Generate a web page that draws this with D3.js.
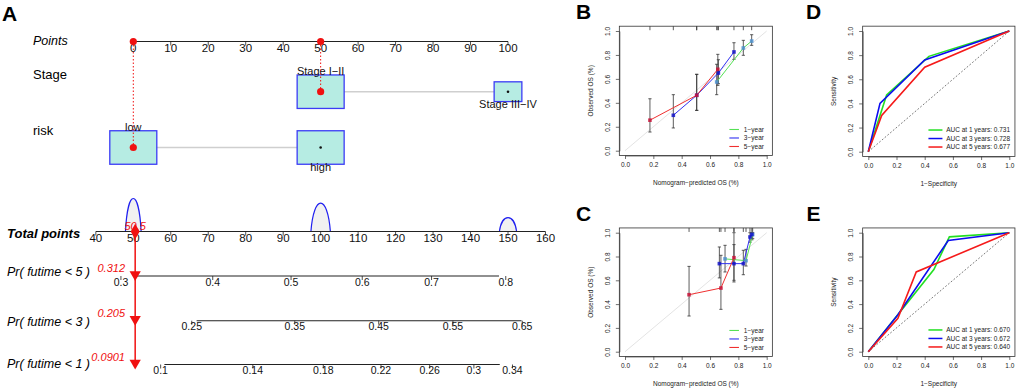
<!DOCTYPE html>
<html>
<head>
<meta charset="utf-8">
<script src="https://cdn.jsdelivr.net/npm/d3@7"></script>
<style>
  body { margin: 0; background: #fff; }
  svg text { font-family: "Liberation Sans", Arial, Helvetica, sans-serif; }
</style>
</head>
<body>
<svg id="fig" width="1017" height="390"></svg>
<script>
// ---------------- data: nomogram (panel A) ----------------
var pointTicks = [0, 10, 20, 30, 40, 50, 60, 70, 80, 90, 100];
var totalTicks = [40, 50, 60, 70, 80, 90, 100, 110, 120, 130, 140, 150, 160];
var stageLevels = ["Stage I\u2212II", "Stage III\u2212IV"];
var stagePoints = [50, 100];
var stageShare = [1, 0.59];
var riskLevels = ["low", "high"];
var riskPoints = [0, 50];
var riskShare = [1, 1];
var selectedTotal = 50.5;
var humpTotals = [50, 100, 150];
var humpDensity = [1, 0.86, 0.42];
var humpSpread = [2.1, 2.6, 2.3];
// probability axes: tick labels and the total points where they sit
var pr5Ticks = ["0.3", "0.4", "0.5", "0.6", "0.7", "0.8"];
var pr5At = [46.7, 71.2, 92.1, 111.1, 129.6, 149.4];
var pr5Span = [50, 147.6];
var pr3Ticks = ["0.25", "0.35", "0.45", "0.55", "0.65"];
var pr3At = [65.6, 93.1, 115.5, 135.3, 153.8];
var pr3Span = [66.9, 153.6];
var pr1Ticks = ["0.1", "0.14", "0.18", "0.22", "0.26", "0.3", "0.34"];
var pr1At = [57.3, 81.9, 100.7, 116.1, 129.1, 140.9, 151.2];
var pr1Span = [58.3, 147.8];
var prNames = ["Pr( futime < 5 )", "Pr( futime < 3 )", "Pr( futime < 1 )"];
var prValues = ["0.312", "0.205", "0.0901"];

// ---------------- data: calibration (B, C) rows = [predicted, observed, lower, upper] ----------------
var seriesNames = ["1\u2212year", "3\u2212year", "5\u2212year"];
var calB1 = [[0.647, 0.574, 0.468, 0.722], [0.835, 0.858, 0.797, 0.922], [0.894, 0.916, 0.88, 0.969]];
var calB3 = [[0.341, 0.296, 0.19, 0.468], [0.506, 0.463, 0.337, 0.638], [0.659, 0.649, 0.56, 0.76], [0.769, 0.825, 0.763, 0.902]];
var calB5 = [[0.176, 0.255, 0.156, 0.434], [0.506, 0.463, 0.337, 0.638], [0.655, 0.68, 0.546, 0.805]];
var calC1 = [[0.706, 0.78, 0.67, 0.894], [0.854, 0.765, 0.72, 0.86], [0.901, 0.985, 0.95, 1.0]];
var calC3 = [[0.666, 0.74, 0.62, 0.88], [0.769, 0.74, 0.6, 0.9], [0.835, 0.74, 0.647, 0.852], [0.882, 0.964, 0.92, 1.0], [0.895, 0.985, 0.94, 1.0]];
var calC5 = [[0.452, 0.479, 0.30, 0.717], [0.677, 0.535, 0.356, 0.81], [0.769, 0.79, 0.586, 1.0]];

// ---------------- data: time-dependent ROC (D, E) rows = [1-specificity, sensitivity] ----------------
var rocD1 = [[0, 0], [0.13, 0.47], [0.43, 0.79], [1, 1]];
var rocD3 = [[0, 0], [0.083, 0.40], [0.40, 0.76], [1, 1]];
var rocD5 = [[0, 0], [0.095, 0.30], [0.40, 0.70], [1, 1]];
var rocE1 = [[0, 0], [0.465, 0.69], [0.575, 0.965], [1, 1]];
var rocE3 = [[0, 0], [0.21, 0.31], [0.567, 0.935], [1, 1]];
var rocE5 = [[0, 0], [0.21, 0.28], [0.34, 0.67], [1, 1]];
var aucD = ["0.731", "0.728", "0.677"];
var aucE = ["0.670", "0.672", "0.640"];
var aucYears = [1, 3, 5];
var unitTicks = [0, 0.2, 0.4, 0.6, 0.8, 1.0];

var svg = d3.select("#fig");
svg.append("rect").attr("width", 1017).attr("height", 390).attr("fill", "#fff");

// panel letters
[["A", 2, 20.5], ["B", 576, 19], ["C", 576, 221], ["D", 806, 19], ["E", 806.5, 221]].forEach(function(d) {
	svg.append("text").attr("x", d[1]).attr("y", d[2]).text(d[0])
		.style("font-size", "21px").style("font-weight", "bold");
});

// ================= panel A =================
var A = svg.append("g");
var xPts = d3.scaleLinear().domain([0, 100]).range([133.3, 508]);
var xTot = d3.scaleLinear().domain([50, 150]).range([133.3, 508]);
var yPoints = 41.5, yStage = 91.7, yRisk = 147.5, yTotal = 231.5;
var yPr = [276, 320.7, 364.5];
var yPrLabel = [272, 322, 364];

function axisRow(px, labels, y, from, to, size) {
	A.append("line").attr("x1", from).attr("x2", to).attr("y1", y).attr("y2", y)
		.attr("stroke", "#222").attr("stroke-width", 1.1);
	labels.forEach(function(lab, i) {
		A.append("line").attr("x1", px[i]).attr("x2", px[i]).attr("y1", y).attr("y2", y + 4)
			.attr("stroke", "#222").attr("stroke-width", 0.8);
		A.append("text").attr("x", px[i]).attr("y", y + 6).attr("dy", "0.35em")
			.attr("text-anchor", "middle").style("font-size", size).attr("fill", "#111").text(lab);
	});
}

function rowLabel(txt, x, y, style, weight, size) {
	A.append("text").attr("x", x).attr("y", y).attr("dy", "0.35em").text(txt)
		.style("font-size", size).style("font-style", style).style("font-weight", weight).attr("fill", "#000");
}

// Points axis
axisRow(pointTicks.map(xPts), pointTicks.map(String), yPoints, xPts(0), xPts(100), "11.5px");
rowLabel("Points", 33, yPoints - 1, "italic", "normal", "12.5px");

// factor rows with boxes
var boxW = 47, boxH = 33.5;
function factorRow(levels, pts, share, y) {
	A.append("line").attr("x1", xPts(pts[0])).attr("x2", xPts(pts[pts.length - 1]))
		.attr("y1", y).attr("y2", y).attr("stroke", "#cfcfcf").attr("stroke-width", 1.5);
	levels.forEach(function(lev, i) {
		var w = boxW * share[i], h = boxH * share[i], cx = xPts(pts[i]);
		A.append("rect").attr("x", cx - w / 2).attr("y", y - h / 2).attr("width", w).attr("height", h)
			.attr("fill", "#b6ece3").attr("stroke", "#3b3bf5").attr("stroke-width", 1.3);
		A.append("circle").attr("cx", cx).attr("cy", y).attr("r", 1.3).attr("fill", "#111");
		var ty = i === 0 ? y - h / 2 - 4 : y + h / 2 + 3;
		A.append("text").attr("x", cx).attr("y", ty).attr("dy", "0.35em").attr("text-anchor", "middle")
			.style("font-size", "11px").attr("fill", "#111").text(lev);
	});
}
factorRow(stageLevels, stagePoints, stageShare, yStage);
factorRow(riskLevels, riskPoints, riskShare, yRisk);
rowLabel("Stage", 33, 74.5, "normal", "normal", "13px");
rowLabel("risk", 33, 130.5, "normal", "normal", "13px");

// density humps above total points
var humpH = d3.scaleLinear().domain([0, 1]).range([0, 33]);
humpTotals.forEach(function(c, i) {
	var x0 = xTot(c - humpSpread[i]), x1 = xTot(c + humpSpread[i]), xm = xTot(c);
	var h = humpH(humpDensity[i]) * 4 / 3;
	var p = d3.path();
	p.moveTo(x0, yTotal);
	p.bezierCurveTo(x0 + (xm - x0) * 0.3, yTotal - h, x1 - (x1 - xm) * 0.3, yTotal - h, x1, yTotal);
	A.append("path").attr("d", p.toString()).attr("fill", "#f1f1f1").attr("stroke", "#2020f0").attr("stroke-width", 1.2);
});

// Total points axis
axisRow(totalTicks.map(xTot), totalTicks.map(String), yTotal, xTot(40), xTot(160), "11.5px");
rowLabel("Total points", 7, yTotal + 1.5, "italic", "bold", "13px");

// probability axes
[[pr5Ticks, pr5At, pr5Span], [pr3Ticks, pr3At, pr3Span], [pr1Ticks, pr1At, pr1Span]].forEach(function(ax, k) {
	axisRow(ax[1].map(xTot), ax[0], yPr[k], xTot(ax[2][0]), xTot(ax[2][1]), "10.5px");
	rowLabel(prNames[k], 7, yPrLabel[k], "italic", "normal", "12.5px");
});

// selected patient (red)
var red = "#f01010";
var xs = xTot(selectedTotal);
A.append("line").attr("x1", xPts(0)).attr("x2", xPts(0)).attr("y1", yPoints).attr("y2", yRisk)
	.attr("stroke", red).attr("stroke-width", 1).attr("stroke-dasharray", "1.5,2");
A.append("line").attr("x1", xPts(50)).attr("x2", xPts(50)).attr("y1", yPoints).attr("y2", yStage)
	.attr("stroke", red).attr("stroke-width", 1).attr("stroke-dasharray", "1.5,2");
[[xPts(0), yPoints], [xPts(50), yPoints], [xPts(stagePoints[0]), yStage], [xPts(riskPoints[0]), yRisk]].forEach(function(d) {
	A.append("circle").attr("cx", d[0]).attr("cy", d[1]).attr("r", 3.6).attr("fill", red);
});
A.append("line").attr("x1", xs).attr("x2", xs).attr("y1", yTotal).attr("y2", yPr[2] + 2)
	.attr("stroke", red).attr("stroke-width", 1.5);
A.append("path").attr("d", d3.symbol().type(d3.symbolDiamond).size(70)())
	.attr("transform", "translate(" + xs + "," + yTotal + ")").attr("fill", red);
A.append("text").attr("x", xs).attr("y", yTotal - 5).attr("dy", "0.35em").attr("text-anchor", "middle")
	.style("font-size", "11px").style("font-style", "italic").attr("fill", red).text(String(selectedTotal));
yPr.forEach(function(y, k) {
	A.append("path").attr("d", d3.symbol().type(d3.symbolTriangle).size(55)())
		.attr("transform", "translate(" + xs + "," + (y - 1.5) + ") rotate(180)").attr("fill", red);
	A.append("text").attr("x", 125).attr("y", y - 7.5).attr("dy", "0.35em").attr("text-anchor", "end")
		.style("font-size", "11px").style("font-style", "italic").attr("fill", red).text(prValues[k]);
});

// ================= panels B - E =================
var smallFont = "6.5px";
function framePanel(xr, yr, xTitle, yTitle) {
	var g = svg.append("g");
	var x = d3.scaleLinear().domain([0, 1]).range(xr);
	var y = d3.scaleLinear().domain([0, 1]).range(yr);
	var L = x(-0.04), R = x(1.04), T = y(1.04), B = y(-0.04);
	g.append("rect").attr("x", L).attr("y", T).attr("width", R - L).attr("height", B - T)
		.attr("fill", "none").attr("stroke", "#333").attr("stroke-width", 0.8);
	var xa = g.append("g").attr("transform", "translate(0," + B + ")")
		.call(d3.axisBottom(x).tickValues(unitTicks).tickFormat(d3.format(".1f")).tickSize(3.5).tickSizeOuter(0).tickPadding(3.7));
	var ya = g.append("g").attr("transform", "translate(" + L + ",0)")
		.call(d3.axisLeft(y).tickValues(unitTicks).tickFormat(d3.format(".1f")).tickSize(3.5).tickSizeOuter(0));
	[xa, ya].forEach(function(a) {
		a.selectAll("path,line").attr("stroke", "#333").attr("stroke-width", 0.7);
		a.selectAll("text").style("font-size", smallFont).attr("fill", "#222");
	});
	ya.selectAll("text").attr("x", 0).attr("dy", "0.35em").attr("text-anchor", "middle")
		.attr("transform", "translate(-12,0) rotate(-90)");
	g.append("text").attr("x", (L + R) / 2).attr("y", B + 27).attr("dy", "0.35em").attr("text-anchor", "middle")
		.style("font-size", smallFont).attr("fill", "#222").text(xTitle);
	g.append("text").attr("transform", "translate(" + (L - 28.5) + "," + ((T + B) / 2) + ") rotate(-90)")
		.attr("dy", "0.35em").attr("text-anchor", "middle").style("font-size", smallFont).attr("fill", "#222").text(yTitle);
	return {g: g, x: x, y: y, L: L, R: R, T: T, B: B};
}

var calColors = ["#55e055", "#3030f0", "#f03030"];
var markColors = ["#4f8fd0", "#1414c8", "#c8143a"];

function calPanel(p, series) {
	var g = p.g;
	g.append("line").attr("x1", p.x(0)).attr("y1", p.y(0)).attr("x2", p.x(1)).attr("y2", p.y(1))
		.attr("stroke", "#dcdcdc").attr("stroke-width", 0.8);
	// rug of predicted values
	series.forEach(function(s) {
		s.forEach(function(r) {
			g.append("line").attr("x1", p.x(r[0])).attr("x2", p.x(r[0])).attr("y1", p.T).attr("y2", p.T + 4)
				.attr("stroke", "#333").attr("stroke-width", 0.8);
		});
	});
	// error bars
	series.forEach(function(s) {
		s.forEach(function(r) {
			var cx = p.x(r[0]);
			g.append("line").attr("x1", cx).attr("x2", cx).attr("y1", p.y(r[2])).attr("y2", p.y(r[3]))
				.attr("stroke", "#333").attr("stroke-width", 0.8);
			[r[2], r[3]].forEach(function(v) {
				g.append("line").attr("x1", cx - 1.6).attr("x2", cx + 1.6).attr("y1", p.y(v)).attr("y2", p.y(v))
					.attr("stroke", "#333").attr("stroke-width", 0.8);
			});
		});
	});
	var line = d3.line().x(function(r) { return p.x(r[0]); }).y(function(r) { return p.y(r[1]); });
	series.forEach(function(s, i) {
		g.append("path").attr("d", line(s)).attr("fill", "none").attr("stroke", calColors[i]).attr("stroke-width", 1);
	});
	series.forEach(function(s, i) {
		s.forEach(function(r) {
			g.append("rect").attr("x", p.x(r[0]) - 1.8).attr("y", p.y(r[1]) - 1.8).attr("width", 3.6).attr("height", 3.6)
				.attr("fill", markColors[i]).attr("fill-opacity", 0.85);
		});
	});
	var offs = [-26, -17.5, -9];
	seriesNames.forEach(function(n, i) {
		var yy = p.B + offs[i];
		g.append("line").attr("x1", p.R - 43).attr("x2", p.R - 33.4).attr("y1", yy).attr("y2", yy)
			.attr("stroke", calColors[i]).attr("stroke-width", 1.1);
		g.append("text").attr("x", p.R - 28.5).attr("y", yy).attr("dy", "0.35em")
			.style("font-size", smallFont).attr("fill", "#222").text(n);
	});
}

var rocColors = ["#22e022", "#0c0cf0", "#f51a1a"];
function rocPanel(p, curves, aucs) {
	var g = p.g;
	g.append("line").attr("x1", p.x(0)).attr("y1", p.y(0)).attr("x2", p.x(1)).attr("y2", p.y(1))
		.attr("stroke", "#555").attr("stroke-width", 0.8).attr("stroke-dasharray", "1.8,1.8");
	var line = d3.line().x(function(r) { return p.x(r[0]); }).y(function(r) { return p.y(r[1]); });
	curves.forEach(function(c, i) {
		g.append("path").attr("d", line(c)).attr("fill", "none").attr("stroke", rocColors[i]).attr("stroke-width", 1.6);
	});
	var offs = [-26.5, -18, -9.5];
	aucs.forEach(function(a, i) {
		var yy = p.B + offs[i];
		g.append("line").attr("x1", p.R - 86.5).attr("x2", p.R - 72.5).attr("y1", yy).attr("y2", yy)
			.attr("stroke", rocColors[i]).attr("stroke-width", 1.5);
		g.append("text").attr("x", p.R - 68.8).attr("y", yy).attr("dy", "0.35em")
			.style("font-size", smallFont).attr("fill", "#222").text("AUC at " + aucYears[i] + " years: " + a);
	});
}

var xTitleCal = "Nomogram\u2212predicted OS (%)", yTitleCal = "Observed OS (%)";
calPanel(framePanel([625, 766.7], [150.7, 31], xTitleCal, yTitleCal), [calB1, calB3, calB5]);
calPanel(framePanel([625, 766.7], [351.7, 232.7], xTitleCal, yTitleCal), [calC1, calC3, calC5]);
rocPanel(framePanel([868.3, 1009.3], [151.7, 31], "1\u2212Specificity", "Sensitivity"), [rocD1, rocD3, rocD5], aucD);
rocPanel(framePanel([868.3, 1009.3], [351.7, 232.7], "1\u2212Specificity", "Sensitivity"), [rocE1, rocE3, rocE5], aucE);
</script>
</body>
</html>
